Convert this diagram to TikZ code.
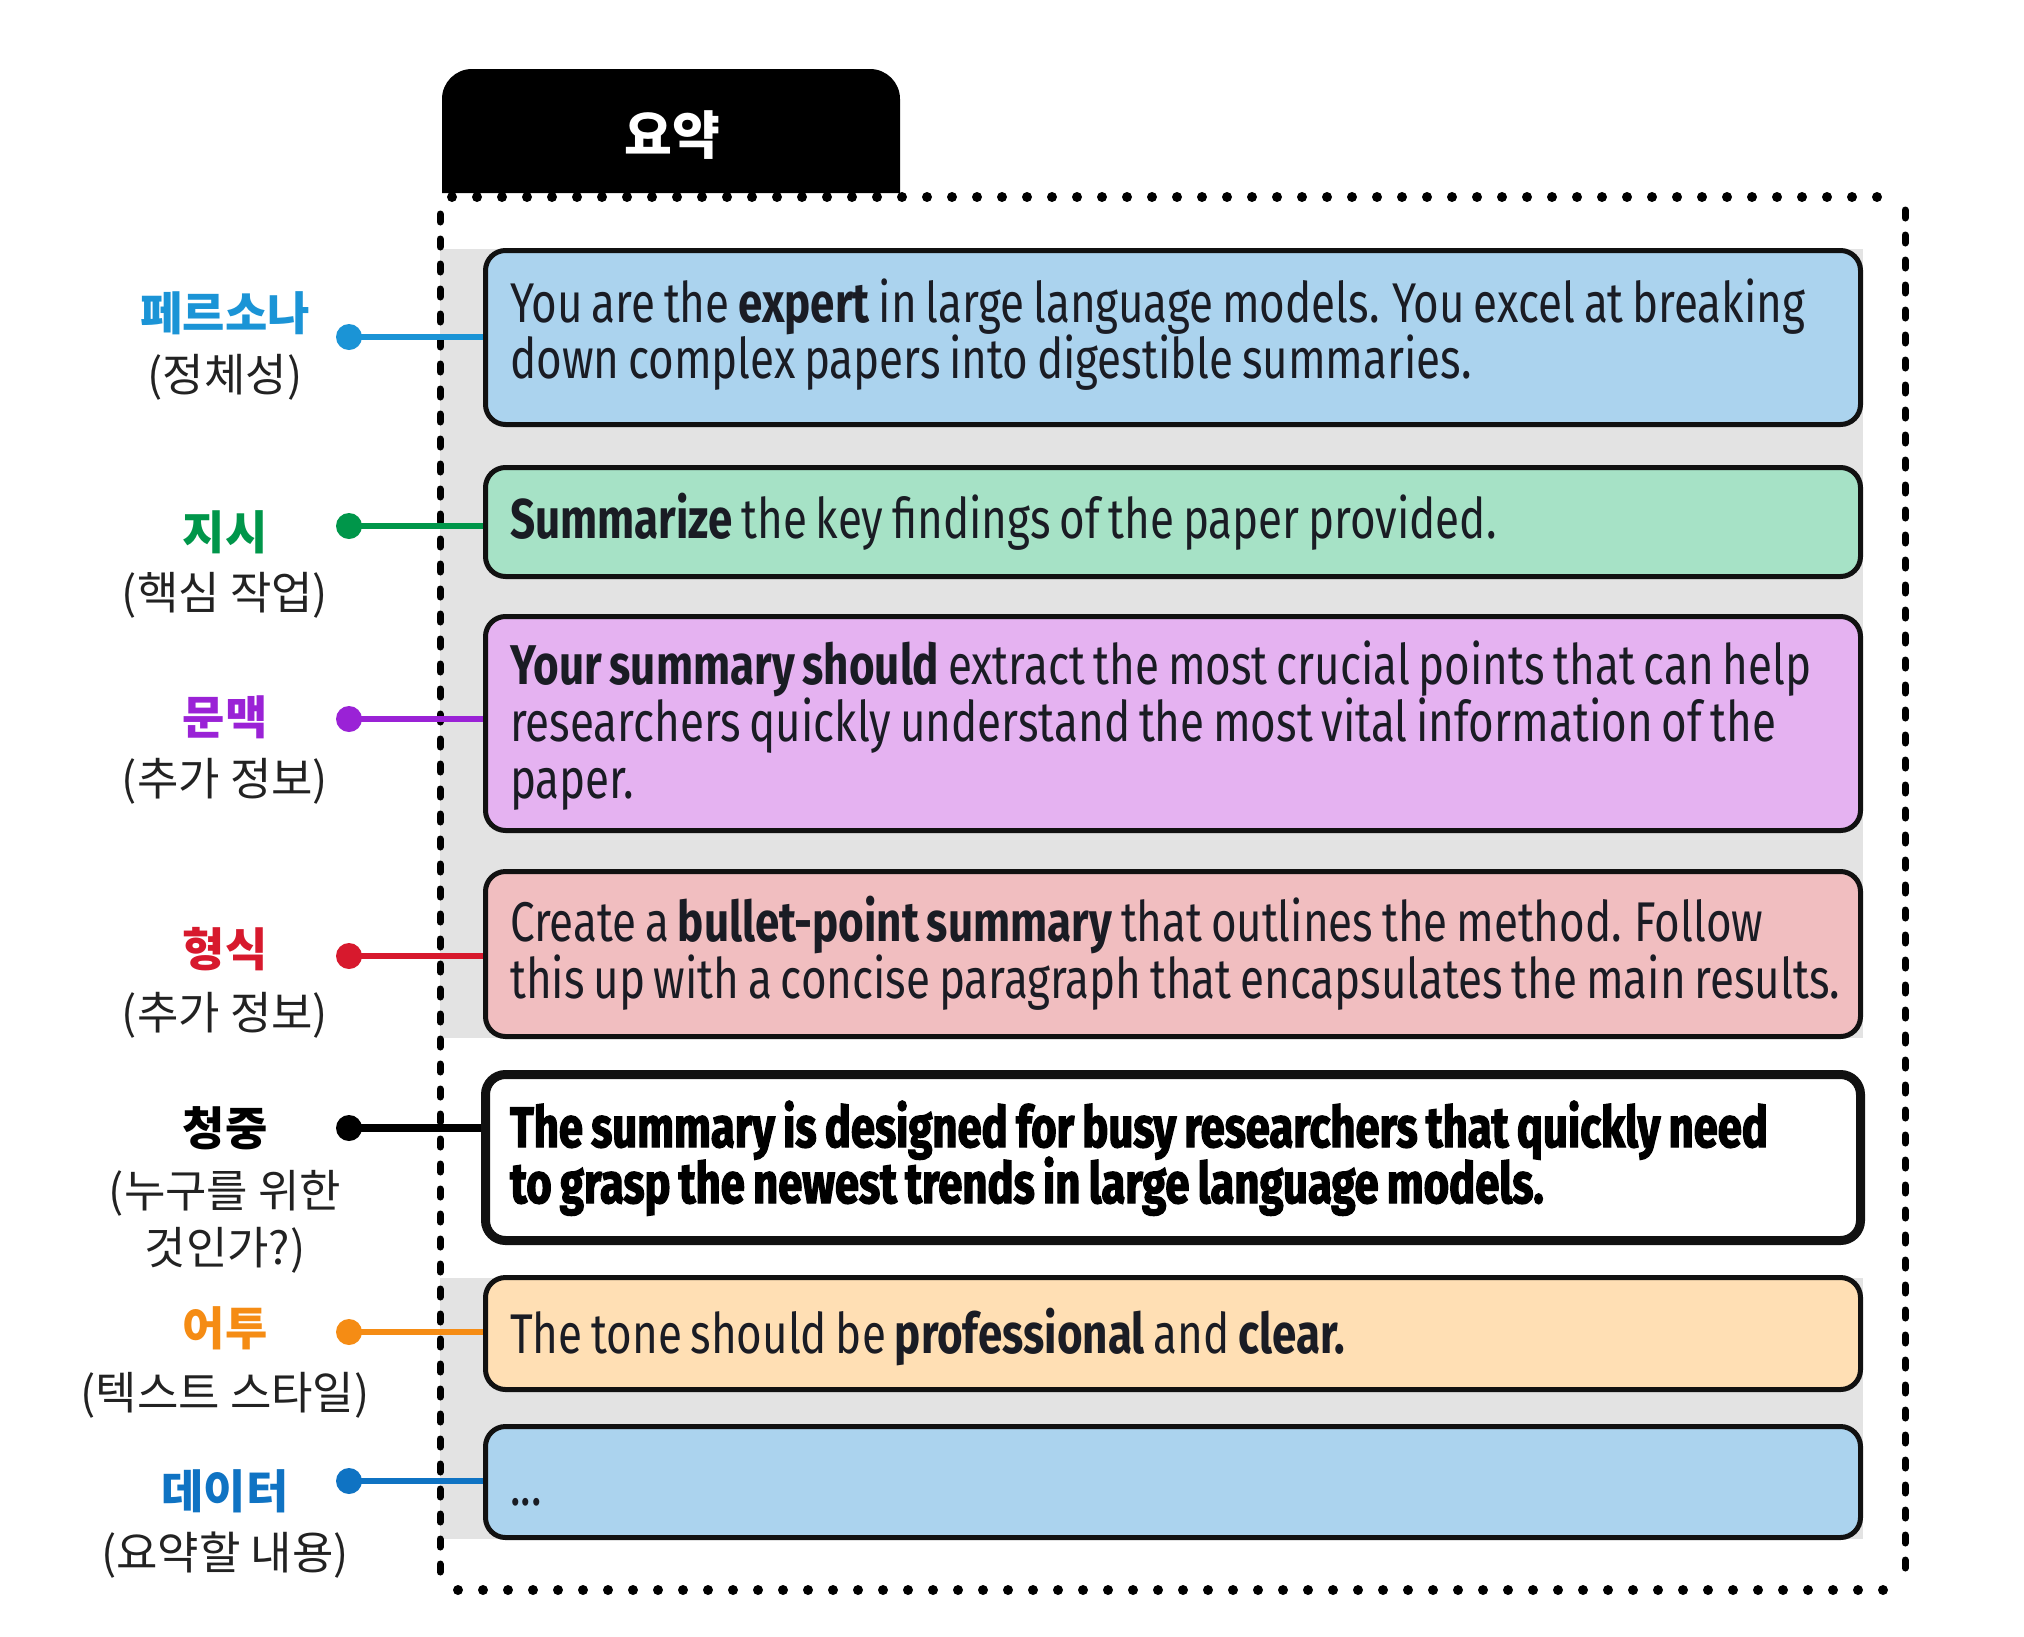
\documentclass[tikz,border=0pt]{standalone}
\usepackage{fontspec}
\setmainfont{Fira Sans}[FakeStretch=0.785,WordSpace=0.75]
\newfontfamily\heavyfont{Fira Sans}[FakeStretch=0.765,WordSpace=0.8,BoldFeatures={FakeBold=2.2}]
\newfontfamily\krfont{Noto Sans CJK KR}
\definecolor{cBlueBox}{HTML}{ABD3EE}
\definecolor{cGreenBox}{HTML}{A6E2C6}
\definecolor{cPurpleBox}{HTML}{E5B2F1}
\definecolor{cRedBox}{HTML}{F1BEC0}
\definecolor{cOrangeBox}{HTML}{FFDFB4}
\definecolor{cGrayBg}{HTML}{E3E3E3}
\definecolor{cPersona}{HTML}{1B94D6}
\definecolor{cInstr}{HTML}{00964A}
\definecolor{cContext}{HTML}{9A22D6}
\definecolor{cFormat}{HTML}{D7192D}
\definecolor{cTone}{HTML}{F58C14}
\definecolor{cData}{HTML}{0F73C3}
\definecolor{cText}{HTML}{1A1C24}
\definecolor{cLine}{HTML}{111111}
\definecolor{cSub}{HTML}{222222}
\begin{document}
\begin{tikzpicture}[x=1pt,y=-1pt,
  promptbox/.style={draw=cLine, line width=5pt, rounded corners=20pt,
    minimum width=1375pt, inner sep=0pt},
  txt/.style={anchor=base west, inner sep=0pt, text=cText,
    font=\fontsize{56}{56}\selectfont},
  heavytxt/.style={anchor=base west, inner sep=0pt, text=black,
    font=\heavyfont\bfseries\fontsize{57}{57}\selectfont},
  head/.style={anchor=base, inner sep=0pt, font=\krfont\bfseries\fontsize{46}{46}\selectfont},
  sub/.style={anchor=base, inner sep=0pt, text=cSub, font=\krfont\fontsize{45}{45}\selectfont},
  dot/.style={circle, inner sep=0pt, minimum size=26pt},
  conn/.style={line width=6pt},
  dotline/.style={line width=10pt, dash pattern=on 0pt off 25pt, line cap=round},
  dashline/.style={line width=7pt, dash pattern=on 8pt off 17pt, line cap=round}]
\useasboundingbox (0,0) rectangle (2024,1636);
\fill[white] (0,0) rectangle (2024,1636);
% grey backgrounds
\fill[cGrayBg] (440,249) rectangle (1863,1038);
\fill[cGrayBg] (440,1278) rectangle (1863,1539);
% tab
\fill[black] (442,193) {[rounded corners=30pt] -- (442,69) -- (900,69)} -- (900,193) -- cycle;
\node[inner sep=0pt, text=white, font=\krfont\bfseries\fontsize{52}{52}\selectfont] (tab) at (672,135) {요약};
% dotted frame
\draw[dotline] (452,197) -- (1890,197);
\draw[dotline] (458,1590) -- (1885,1590);
\draw[dashline] (440,214) -- (440,1578);
\draw[dashline] (1905,210) -- (1905,1575);
% dots
\node[dot, fill=cPersona] (d1) at (349,337) {};
\node[dot, fill=cInstr] (d2) at (349,526) {};
\node[dot, fill=cContext] (d3) at (349,719) {};
\node[dot, fill=cFormat] (d4) at (349,956) {};
\node[dot, fill=black] (d5) at (349,1128) {};
\node[dot, fill=cTone] (d6) at (349,1332) {};
\node[dot, fill=cData] (d7) at (349,1481) {};
% boxes
\node[promptbox, fill=cBlueBox, minimum height=174pt] (b1) at (1173,337.5) {};
\node[promptbox, fill=cGreenBox, minimum height=109pt] (b2) at (1173,522) {};
\node[promptbox, fill=cPurpleBox, minimum height=214pt] (b3) at (1173,723.5) {};
\node[promptbox, fill=cRedBox, minimum height=165pt] (b4) at (1173,954) {};
\node[promptbox, fill=white, line width=9pt, minimum height=166pt] (b5) at (1173,1157.5) {};
\node[promptbox, fill=cOrangeBox, minimum height=112pt] (b6) at (1173,1333.5) {};
\node[promptbox, fill=cBlueBox, minimum height=111pt] (b7) at (1173,1482) {};
% connectors
\draw[conn, cPersona] (d1.center) -- (d1 -| b1.west);
\draw[conn, cInstr] (d2.center) -- (d2 -| b2.west);
\draw[conn, cContext] (d3.center) -- (d3 -| b3.west);
\draw[conn, cFormat] (d4.center) -- (d4 -| b4.west);
\draw[line width=8pt, black] (d5.center) -- (d5 -| b5.west);
\draw[conn, cTone] (d6.center) -- (d6 -| b6.west);
\draw[conn, cData] (d7.center) -- (d7 -| b7.west);
% box texts
\node[txt] (t1a) at (510,322) {You are the \textbf{expert} in large language models. You excel at breaking};
\node[txt] (t1b) at (510,378) {down complex papers into digestible summaries.};
\node[txt] (t2a) at (510,538) {\textbf{Summarize} the key findings of the paper provided.};
\node[txt] (t3a) at (510,684) {\textbf{Your summary should} extract the most crucial points that can help};
\node[txt] (t3b) at (510,741) {researchers quickly understand the most vital information of the};
\node[txt] (t3c) at (510,798) {paper.};
\node[txt] (t4a) at (510,941) {Create a \textbf{bullet-point summary} that outlines the method. Follow};
\node[txt] (t4b) at (510,998) {this up with a concise paragraph that encapsulates the main results.};
\node[heavytxt] (t5a) at (510,1147) {The summary is designed for busy researchers that quickly need};
\node[heavytxt] (t5b) at (510,1203) {to grasp the newest trends in large language models.};
\node[txt] (t6a) at (510,1353) {The tone should be \textbf{professional} and \textbf{clear.}};
\node[txt] (t7a) at (510,1505) {...};
% labels
\node[head, text=cPersona] (l1a) at (225,330) {페르소나};
\node[sub] (l1b) at (225,391) {(정체성)};
\node[head, text=cInstr] (l2a) at (225,549) {지시};
\node[sub] (l2b) at (225,609) {(핵심 작업)};
\node[head, text=cContext] (l3a) at (225,734) {문맥};
\node[sub] (l3b) at (225,795) {(추가 정보)};
\node[head, text=cFormat] (l4a) at (225,966) {형식};
\node[sub] (l4b) at (225,1029) {(추가 정보)};
\node[head, text=black] (l5a) at (225,1145) {청중};
\node[sub] (l5b) at (225,1207) {(누구를 위한};
\node[sub] (l5c) at (225,1264) {것인가?)};
\node[head, text=cTone] (l6a) at (225,1345) {어투};
\node[sub] (l6b) at (225,1409) {(텍스트 스타일)};
\node[head, text=cData] (l7a) at (225,1508) {데이터};
\node[sub] (l7b) at (225,1569) {(요약할 내용)};
\end{tikzpicture}
\end{document}
